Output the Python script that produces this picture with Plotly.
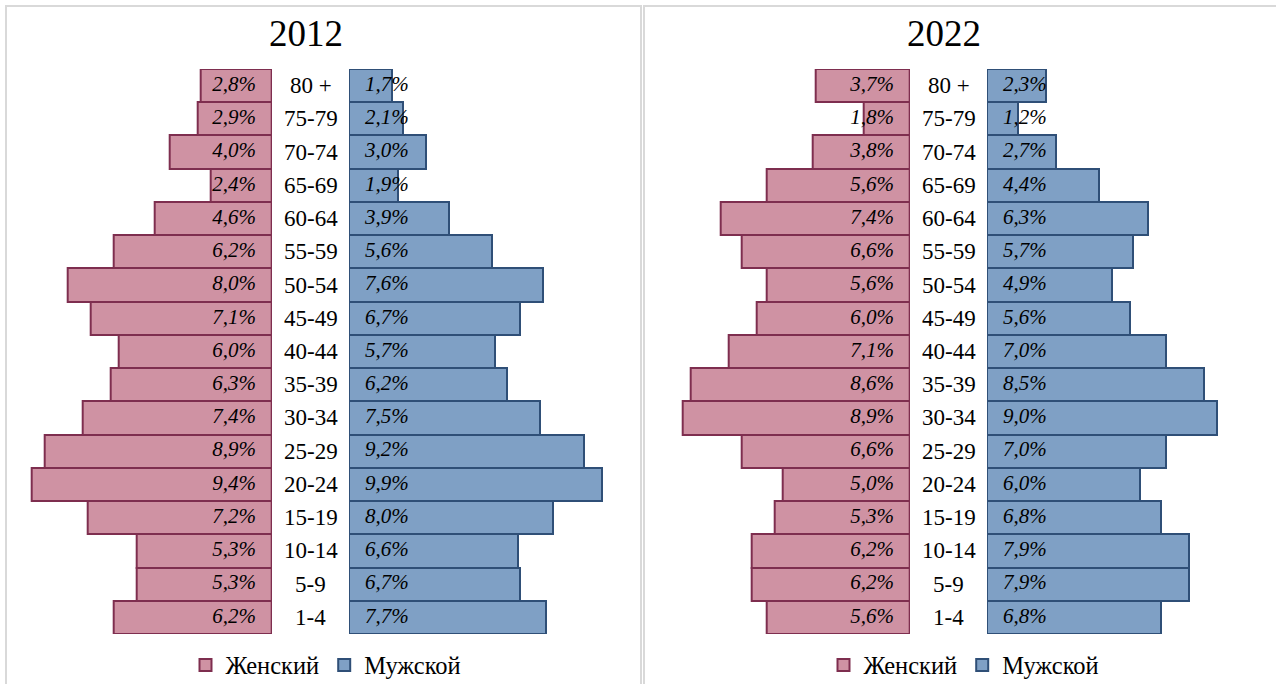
import plotly.graph_objects as go

# Age groups, bottom to top
ages = ["1-4", "5-9", "10-14", "15-19", "20-24", "25-29", "30-34", "35-39",
        "40-44", "45-49", "50-54", "55-59", "60-64", "65-69", "70-74", "75-79", "80 +"]

female_2012 = [6.2, 5.3, 5.3, 7.2, 9.4, 8.9, 7.4, 6.3, 6.0, 7.1, 8.0, 6.2, 4.6, 2.4, 4.0, 2.9, 2.8]
male_2012 = [7.7, 6.7, 6.6, 8.0, 9.9, 9.2, 7.5, 6.2, 5.7, 6.7, 7.6, 5.6, 3.9, 1.9, 3.0, 2.1, 1.7]
female_2022 = [5.6, 6.2, 6.2, 5.3, 5.0, 6.6, 8.9, 8.6, 7.1, 6.0, 5.6, 6.6, 7.4, 5.6, 3.8, 1.8, 3.7]
male_2022 = [6.8, 7.9, 7.9, 6.8, 6.0, 7.0, 9.0, 8.5, 7.0, 5.6, 4.9, 5.7, 6.3, 4.4, 2.7, 1.2, 2.3]

years = ["2012", "2022"]
sex_names = ["Женский", "Мужской"]

W, H = 1276, 684
SERIF = "Liberation Serif"
F_FILL, F_LINE = "#CF92A3", "#7E2E4F"
M_FILL, M_LINE = "#7FA0C5", "#2F4F77"


def fmt(v):
    return f"{v:.1f}%".replace(".", ",")


def px(x):
    return x / W


def py(y):
    return (H - y) / H


SCALE = 25.53   # px per percent
XMAX = 10.0
LABEL_OFF = 0.63  # label offset from the base (percent units)

fig = go.Figure()

panels = [
    dict(year=years[0], fem=female_2012, mal=male_2012, fbase=272, mbase=349,
         legend="legend", legx=326),
    dict(year=years[1], fem=female_2022, mal=male_2022, fbase=910, mbase=987,
         legend="legend2", legx=964),
]

layout_axes = {}
annotations = []
for i, p in enumerate(panels):
    fx = "x" if i == 0 else f"x{2 * i + 1}"
    mx = f"x{2 * i + 2}"
    fkey = "xaxis" if i == 0 else f"xaxis{2 * i + 1}"
    mkey = f"xaxis{2 * i + 2}"
    layout_axes[fkey] = dict(domain=[px(p["fbase"] - SCALE * XMAX), px(p["fbase"])],
                             range=[XMAX, 0], visible=False, anchor="y", fixedrange=True)
    layout_axes[mkey] = dict(domain=[px(p["mbase"]), px(p["mbase"] + SCALE * XMAX)],
                             range=[0, XMAX], visible=False, anchor="y", fixedrange=True)

    fig.add_trace(go.Bar(
        x=p["fem"], y=ages, orientation="h", xaxis=fx, yaxis="y",
        name=sex_names[0], legend=p["legend"],
        marker=dict(color=F_FILL, line=dict(color=F_LINE, width=2)),
        hovertemplate="%{y}: %{x}%<extra>" + sex_names[0] + "</extra>",
    ))
    fig.add_trace(go.Bar(
        x=p["mal"], y=ages, orientation="h", xaxis=mx, yaxis="y",
        name=sex_names[1], legend=p["legend"],
        marker=dict(color=M_FILL, line=dict(color=M_LINE, width=2)),
        hovertemplate="%{y}: %{x}%<extra>" + sex_names[1] + "</extra>",
    ))
    # value labels
    fig.add_trace(go.Scatter(
        x=[LABEL_OFF] * len(ages), y=ages, xaxis=fx, yaxis="y", mode="text",
        text=[fmt(v) for v in p["fem"]], textposition="middle left",
        textfont=dict(family=SERIF, size=21, color="#000000", style="italic"),
        showlegend=False, hoverinfo="skip", cliponaxis=False,
    ))
    fig.add_trace(go.Scatter(
        x=[LABEL_OFF] * len(ages), y=ages, xaxis=mx, yaxis="y", mode="text",
        text=[fmt(v) for v in p["mal"]], textposition="middle right",
        textfont=dict(family=SERIF, size=21, color="#000000", style="italic"),
        showlegend=False, hoverinfo="skip", cliponaxis=False,
    ))
    # age labels in the centre gap
    cx = (p["fbase"] + p["mbase"]) / 2
    for a in ages:
        annotations.append(dict(x=px(cx), xref="paper", y=a, yref="y", text=a,
                                showarrow=False, xanchor="center", yanchor="middle",
                                font=dict(family=SERIF, size=23, color="#000000")))
    # title
    annotations.append(dict(x=px(p["fbase"] + 33.5), xref="paper", y=py(33), yref="paper",
                            text=p["year"], showarrow=False, xanchor="center", yanchor="middle",
                            font=dict(family=SERIF, size=37, color="#000000")))

shapes = [
    dict(type="rect", xref="paper", yref="paper", x0=px(6), x1=px(641), y0=-0.05, y1=py(6),
         line=dict(color="#D9D9D9", width=2), fillcolor="rgba(0,0,0,0)", layer="below"),
    dict(type="rect", xref="paper", yref="paper", x0=px(644), x1=1.05, y0=-0.05, y1=py(6),
         line=dict(color="#D9D9D9", width=2), fillcolor="rgba(0,0,0,0)", layer="below"),
]

legend_common = dict(orientation="h", yanchor="middle", y=py(665), xanchor="center",
                     font=dict(family=SERIF, size=24.5, color="#000000"),
                     bgcolor="rgba(0,0,0,0)", itemwidth=30, traceorder="normal",
                     itemclick=False, itemdoubleclick=False)

fig.update_layout(
    width=W, height=H,
    margin=dict(l=0, r=0, t=0, b=0, pad=0, autoexpand=False),
    paper_bgcolor="#FFFFFF", plot_bgcolor="rgba(0,0,0,0)",
    barmode="overlay", bargap=0,
    yaxis=dict(domain=[py(634), py(69)], type="category", categoryorder="array",
               categoryarray=ages, range=[-0.5, len(ages) - 0.5],
               visible=False, anchor="x", fixedrange=True),
    legend=dict(x=px(panels[0]["legx"]), **legend_common),
    legend2=dict(x=px(panels[1]["legx"]), **legend_common),
    annotations=annotations,
    shapes=shapes,
    showlegend=True,
    **layout_axes,
)

fig.write_html("out.html", config={"displayModeBar": False},
               post_script="document.body.style.margin='0px';")
